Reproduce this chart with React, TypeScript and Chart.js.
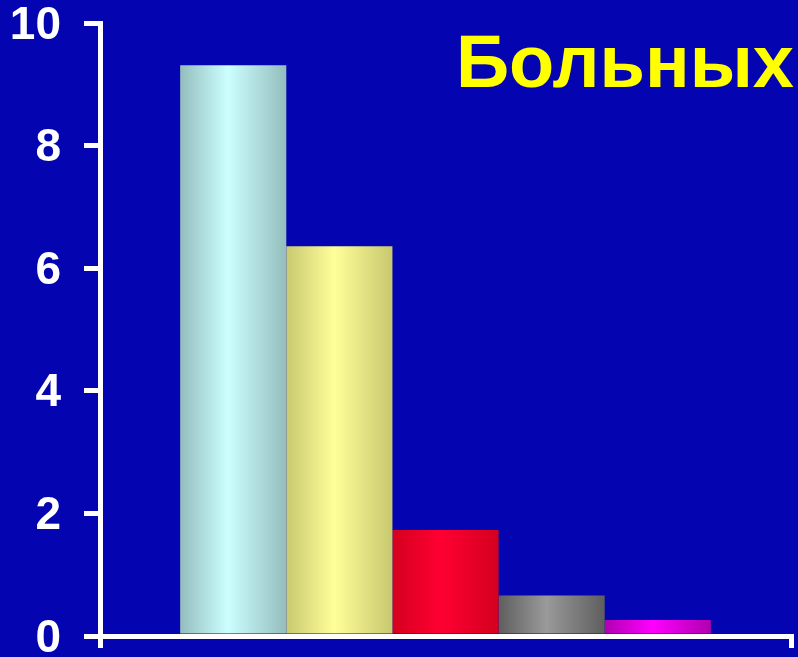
import React, { useEffect, useRef } from "react";
import { Chart, registerables } from "chart.js";

Chart.register(...registerables);

const categories = [""];
const seriesNames = ["A", "B", "C", "D", "E"];
const seriesValues = [9.31, 6.36, 1.73, 0.66, 0.26];
const edgeColors = ["#94BDBD", "#C8C870", "#D4001E", "#5E5E5E", "#B000B0"];
const centerColors = ["#CCFFFF", "#FFFF99", "#FF0033", "#9A9A9A", "#FF00FF"];
const yTicks = [0, 2, 4, 6, 8, 10];
const titleText = "Больных";

const CAT_PCT = 0.768;

export default function App() {
  const ref = useRef<HTMLCanvasElement>(null);
  useEffect(() => {
    document.body.style.margin = "0";
    const canvas = ref.current!;
    const makeBg = (i: number) => (ctx: any) => {
      const chart = ctx.chart;
      const xs = chart.scales?.x;
      if (!xs || !chart.chartArea) return centerColors[i];
      const center = xs.getPixelForValue(0);
      const group = (chart.chartArea.right - chart.chartArea.left) * CAT_PCT;
      const bw = group / seriesValues.length;
      const left = center - group / 2 + i * bw;
      const g = chart.ctx.createLinearGradient(left, 0, left + bw, 0);
      g.addColorStop(0, edgeColors[i]);
      g.addColorStop(0.45, centerColors[i]);
      g.addColorStop(1, edgeColors[i]);
      return g;
    };
    const chart = new Chart(canvas, {
      type: "bar",
      data: {
        labels: categories,
        datasets: seriesValues.map((v, i) => ({
          label: seriesNames[i],
          data: [v],
          backgroundColor: makeBg(i),
          borderWidth: 0,
          barPercentage: 1,
          categoryPercentage: CAT_PCT,
        })),
      },
      options: {
        animation: false,
        responsive: false,
        maintainAspectRatio: false,
        layout: { padding: { top: 23, right: 7, left: 0, bottom: 0 } },
        plugins: { legend: { display: false }, tooltip: { enabled: false }, title: { display: false } },
        scales: {
          x: {
            z: 1,
            offset: true,
            border: { display: true, color: "#FFFFFF", width: 5 },
            grid: { display: true, drawOnChartArea: false, drawTicks: true, tickLength: 12, color: "#FFFFFF", lineWidth: 5, offset: true },
            ticks: { display: false },
            afterFit: (s: any) => { s.height = 21; },
          },
          y: {
            z: 1,
            min: 0,
            max: 10,
            afterBuildTicks: (s: any) => { s.ticks = yTicks.map((v) => ({ value: v })); },
            border: { display: true, color: "#FFFFFF", width: 5 },
            grid: { drawOnChartArea: false, drawTicks: true, tickLength: 16, color: "#FFFFFF", lineWidth: 5 },
            ticks: {
              color: "#FFFFFF",
              padding: 23,
              labelOffset: 3,
              font: { family: "'Liberation Sans', Arial, sans-serif", size: 46, weight: "bold" },
            },
            afterFit: (s: any) => { s.width = 100; s.paddingTop = 0; s.paddingBottom = 0; },
          },
        },
      },
    });
    return () => chart.destroy();
  }, []);
  return (
    <div style={{ position: "relative", width: 798, height: 657, background: "#0404B0", overflow: "hidden" }}>
      <canvas ref={ref} width={798} height={657} style={{ display: "block" }} />
      <div
        style={{
          position: "absolute",
          right: 4,
          top: 19,
          color: "#FFFF00",
          fontFamily: "'Liberation Sans', Arial, sans-serif",
          fontWeight: "bold",
          fontSize: 74,
          lineHeight: "86px",
          whiteSpace: "nowrap",
        }}
      >
        {titleText}
      </div>
    </div>
  );
}
